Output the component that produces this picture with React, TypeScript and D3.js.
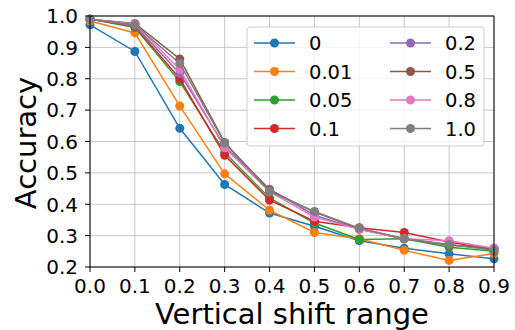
import React from 'react';
import * as d3 from 'd3';

const shifts = [0, 0.1, 0.2, 0.3, 0.4, 0.5, 0.6, 0.7, 0.8, 0.9];
const seriesNames = ['0', '0.01', '0.05', '0.1', '0.2', '0.5', '0.8', '1.0'];
const acc0 = [0.972, 0.887, 0.642, 0.463, 0.372, 0.33, 0.284, 0.26, 0.242, 0.226];
const acc001 = [0.984, 0.946, 0.713, 0.497, 0.381, 0.31, 0.29, 0.253, 0.221, 0.243];
const acc005 = [0.99, 0.963, 0.791, 0.565, 0.42, 0.34, 0.288, 0.29, 0.263, 0.25];
const acc01 = [0.99, 0.967, 0.8, 0.556, 0.413, 0.346, 0.325, 0.31, 0.28, 0.255];
const acc02 = [0.99, 0.97, 0.817, 0.585, 0.448, 0.365, 0.32, 0.29, 0.27, 0.26];
const acc05 = [0.99, 0.976, 0.863, 0.597, 0.445, 0.375, 0.322, 0.29, 0.27, 0.258];
const acc08 = [0.99, 0.975, 0.83, 0.58, 0.44, 0.359, 0.32, 0.29, 0.284, 0.26];
const acc10 = [0.99, 0.972, 0.849, 0.595, 0.44, 0.377, 0.324, 0.29, 0.272, 0.253];
const allSeries = [acc0, acc001, acc005, acc01, acc02, acc05, acc08, acc10];
const xTicks = [0, 0.1, 0.2, 0.3, 0.4, 0.5, 0.6, 0.7, 0.8, 0.9];
const yTicks = [0.2, 0.3, 0.4, 0.5, 0.6, 0.7, 0.8, 0.9, 1.0];

const colors = ['#1f77b4', '#ff7f0e', '#2ca02c', '#d62728', '#9467bd', '#8c564b', '#e377c2', '#7f7f7f'];
const font = 'DejaVu Sans, sans-serif';

export default function App() {
  const left = 90, right = 494, top = 16, bottom = 267;
  const x = d3.scaleLinear().domain([0, 0.9]).range([left, right]);
  const y = d3.scaleLinear().domain([0.2, 1.0]).range([bottom, top]);
  const line = d3.line<number>().x((_, i) => x(shifts[i])).y(d => y(d));

  const legX = 247, legY = 27, legW = 237, legH = 119;
  const rowH = 28.5;

  return (
    <svg width={515} height={330} style={{ position: 'absolute', left: 0, top: 0, background: '#fff' }} fontFamily={font}>
      {xTicks.map(t => (
        <line key={'gx' + t} x1={x(t)} x2={x(t)} y1={top} y2={bottom} stroke="#b0b0b0" strokeOpacity={0.7} strokeWidth={1} />
      ))}
      {yTicks.map(t => (
        <line key={'gy' + t} x1={left} x2={right} y1={y(t)} y2={y(t)} stroke="#b0b0b0" strokeOpacity={0.7} strokeWidth={1} />
      ))}
      <g>
        {allSeries.map((s, k) => (
          <g key={k}>
            <path d={line(s) || ''} fill="none" stroke={colors[k]} strokeWidth={1.5} />
            {s.map((v, i) => (
              <circle key={i} cx={x(shifts[i])} cy={y(v)} r={4.5} fill={colors[k]} />
            ))}
          </g>
        ))}
      </g>
      <rect x={left} y={top} width={right - left} height={bottom - top} fill="none" stroke="#000" strokeWidth={1} />
      {xTicks.map(t => (
        <g key={'tx' + t}>
          <line x1={x(t)} x2={x(t)} y1={bottom} y2={bottom + 5} stroke="#000" />
          <text x={x(t)} y={bottom + 26} fontSize={20} textAnchor="middle">{d3.format('.1f')(t)}</text>
        </g>
      ))}
      {yTicks.map(t => (
        <g key={'ty' + t}>
          <line x1={left - 5} x2={left} y1={y(t)} y2={y(t)} stroke="#000" />
          <text x={left - 12} y={y(t) + 7.3} fontSize={20} textAnchor="end">{d3.format('.1f')(t)}</text>
        </g>
      ))}
      <text x={(left + right) / 2} y={324} fontSize={29} textAnchor="middle">Vertical shift range</text>
      <text transform={`translate(36,143) rotate(-90)`} fontSize={29} textAnchor="middle">Accuracy</text>
      <rect x={legX} y={legY} width={legW} height={legH} rx={3} fill="#fff" fillOpacity={0.8} stroke="#cccccc" strokeWidth={1} />
      {seriesNames.map((name, k) => {
        const col = Math.floor(k / 4);
        const row = k % 4;
        const lx = col === 0 ? 254 : 390;
        const ly = 43 + row * rowH;
        return (
          <g key={name}>
            <line x1={lx} x2={lx + 41} y1={ly} y2={ly} stroke={colors[k]} strokeWidth={1.5} />
            <circle cx={lx + 20.5} cy={ly} r={4.5} fill={colors[k]} />
            <text x={lx + 55} y={ly + 7} fontSize={19.5}>{name}</text>
          </g>
        );
      })}
    </svg>
  );
}
